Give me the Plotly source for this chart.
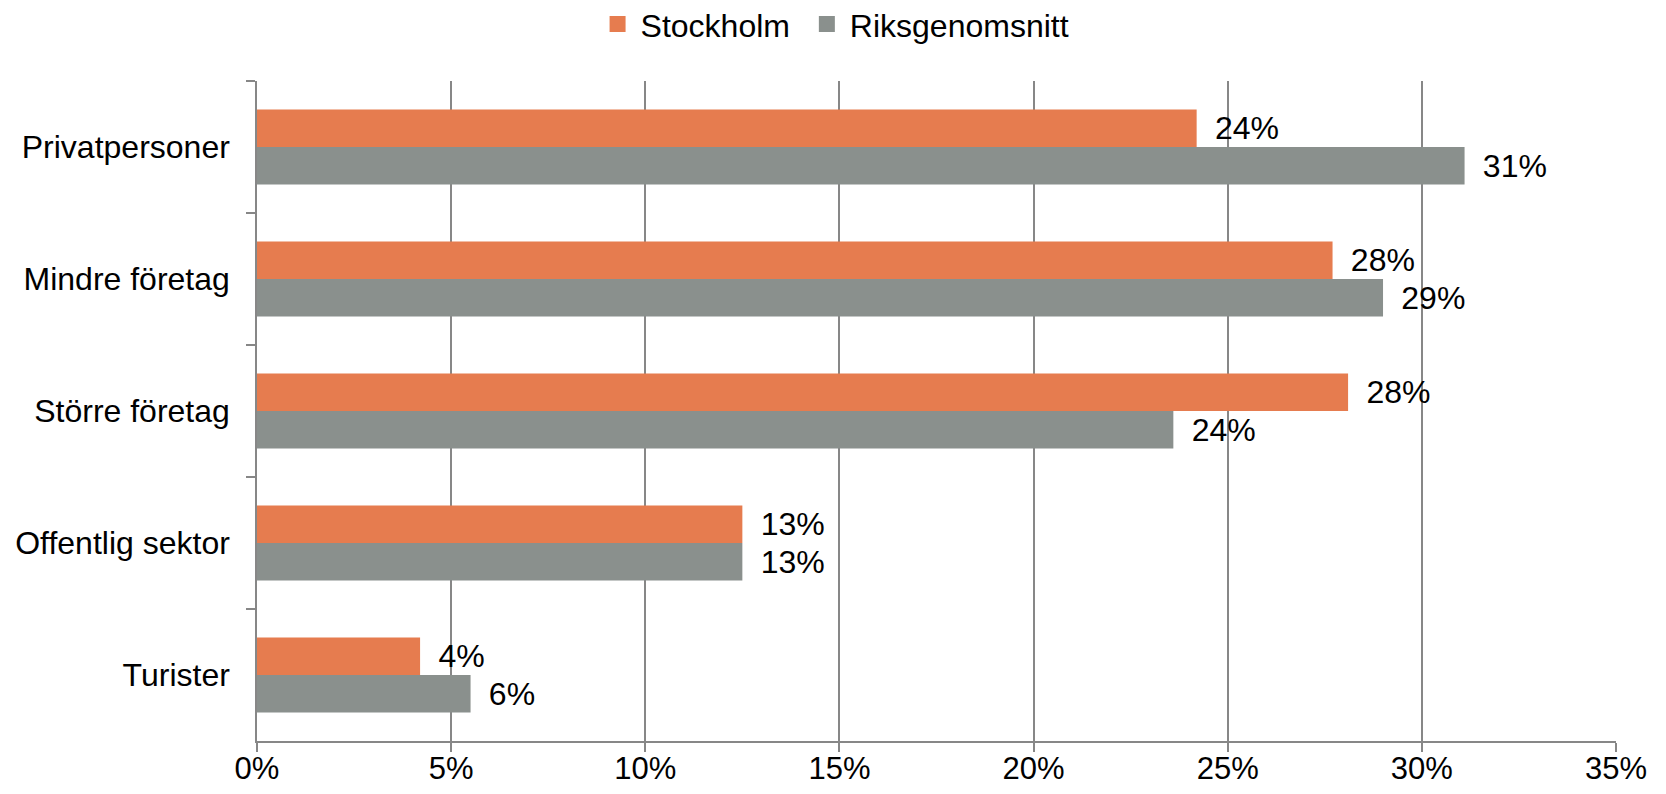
import plotly.graph_objects as go

categories = ["Privatpersoner", "Mindre företag", "Större företag", "Offentlig sektor", "Turister"]
stockholm = [0.242, 0.277, 0.281, 0.125, 0.042]
riks = [0.311, 0.290, 0.236, 0.125, 0.055]
x_ticks = [0, 0.05, 0.10, 0.15, 0.20, 0.25, 0.30, 0.35]

orange = "#E67C4F"
grey = "#8A908D"


def pct(vals):
    # excel-style rounding, 12.5 -> 13
    return ["\u00a0\u2009" + f"{int(v * 100 + 0.5)}%" for v in vals]


font = dict(family="Liberation Sans, Arial, sans-serif", size=32, color="black")
grey_line = "#878787"

fig = go.Figure()
for name, vals, col in [("Stockholm", stockholm, orange), ("Riksgenomsnitt", riks, grey)]:
    fig.add_trace(go.Bar(
        y=categories, x=vals, name=name, orientation="h",
        marker=dict(color=col, line=dict(width=0)),
        text=pct(vals), textposition="outside", constraintext="none",
        textfont=font, cliponaxis=False, showlegend=False,
    ))

# legend entries with bigger square swatches
for name, col in [("Stockholm\u00a0", orange), ("Riksgenomsnitt", grey)]:
    fig.add_trace(go.Scatter(
        x=[None], y=[None], mode="markers", name=name,
        marker=dict(symbol="square", size=16, color=col),
    ))

# page body has an 8px margin, so the figure is 16px smaller than the window
fig.update_layout(
    width=1650, height=778,
    margin=dict(l=249, r=42, t=73, b=45, autoexpand=False),
    paper_bgcolor="white", plot_bgcolor="white",
    font=font,
    barmode="group", bargap=0.43, bargroupgap=0,
    legend=dict(orientation="h", x=0.425, xanchor="center", y=1.086, yanchor="middle",
                font=font, itemwidth=36, traceorder="normal"),
    xaxis=dict(
        range=[0, 0.35], tickvals=x_ticks, tickformat=".0%",
        showgrid=True, gridcolor=grey_line, gridwidth=1.5,
        showline=True, linecolor=grey_line, linewidth=1.5,
        ticks="outside", ticklen=9, tickcolor=grey_line, tickwidth=1.5,
        zeroline=False, tickfont=dict(font, size=31), ticklabelstandoff=-10,
    ),
    yaxis=dict(
        autorange="reversed", showgrid=False,
        showline=True, linecolor=grey_line, linewidth=1.5,
        ticks="outside", tickson="boundaries", ticklen=9, tickcolor=grey_line, tickwidth=1.5,
        tickfont=font, ticklabelstandoff=19,
    ),
)

fig.write_html("out.html")
